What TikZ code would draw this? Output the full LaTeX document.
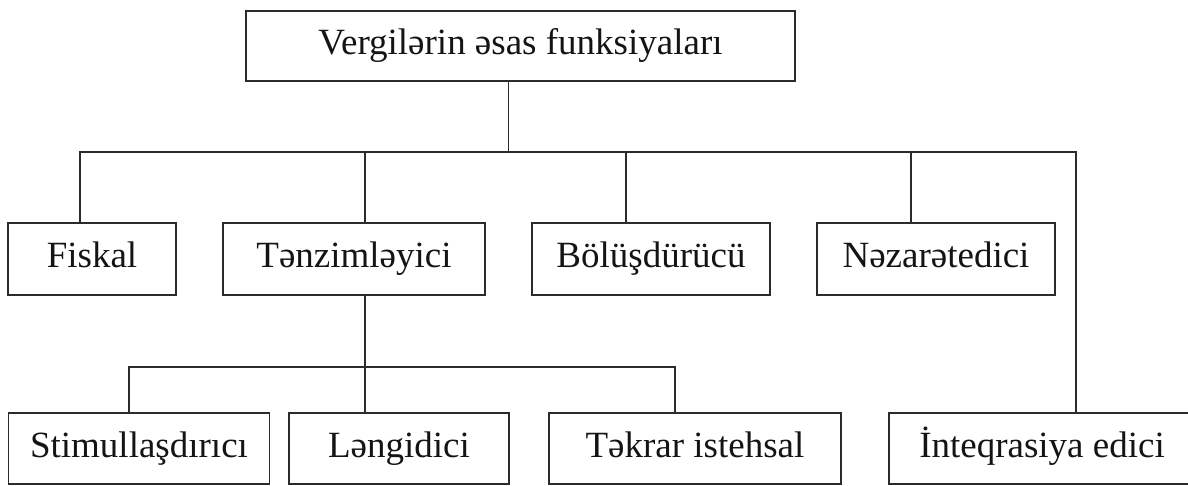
\documentclass[tikz,border=0pt]{standalone}
\usepackage{fontspec}
\setmainfont{Liberation Serif}
\usepackage{tikz}
\usetikzlibrary{positioning,calc}
\definecolor{vgLine}{HTML}{2B2B2B}
\definecolor{vgText}{HTML}{141414}

\begin{document}
\begin{tikzpicture}[x=1pt,y=-1pt,font=\fontsize{37}{44}\selectfont,
  bx/.style={draw=vgLine,line width=1.8pt,inner sep=0pt,minimum height=71pt,
             text height=26pt,text depth=9pt,text=vgText},
  ln/.style={vgLine,line width=1.8pt}]
\useasboundingbox (0,0) rectangle (1188,485);
\node[bx,minimum width=549pt,minimum height=70pt] (root) at (520.5,46) {Vergilərin əsas funksiyaları};
\node[bx,minimum width=168pt,minimum height=72pt] (fiskal) at (92,259)  {Fiskal};
\node[bx,minimum width=262pt,minimum height=72pt] (tenz)   at (354,259) {Tənzimləyici};
\node[bx,minimum width=238pt,minimum height=72pt] (bolus)  at (651,259) {Bölüşdürücü};
\node[bx,minimum width=238pt,minimum height=72pt] (nezar)  at (936,259) {Nəzarətedici};
\node[bx,minimum width=261pt] (stim)   at (139,448.5)  {Stimullaşdırıcı};
\node[bx,minimum width=220pt] (leng)   at (399,448.5)  {Ləngidici};
\node[bx,minimum width=292pt] (tekrar) at (695,448.5)  {Təkrar istehsal};
\node[bx,minimum width=306pt] (inteq)  at (1042,448.5) {İnteqrasiya edici};
\coordinate (bl) at (80,152);
\coordinate (br) at (1076,152);
\coordinate (sl) at (129,367);
\coordinate (sr) at (675,367);
\draw[ln] ([xshift=-12pt]root.south) -- ([xshift=-12pt]root.south |- bl);
\draw[ln] (bl |- fiskal.north) -- (bl) -- (br) -- (br |- inteq.north);
\draw[ln] ([xshift=11pt]tenz.north) -- ([xshift=11pt]tenz.north |- bl);
\draw[ln] ([xshift=-25pt]bolus.north) -- ([xshift=-25pt]bolus.north |- bl);
\draw[ln] ([xshift=-25pt]nezar.north) -- ([xshift=-25pt]nezar.north |- bl);
\draw[ln] ([xshift=11pt]tenz.south) -- ([xshift=11pt]tenz.south |- leng.north);
\draw[ln] (sl |- stim.north) -- (sl) -- (sr) -- (sr |- tekrar.north);
\end{tikzpicture}
\end{document}
